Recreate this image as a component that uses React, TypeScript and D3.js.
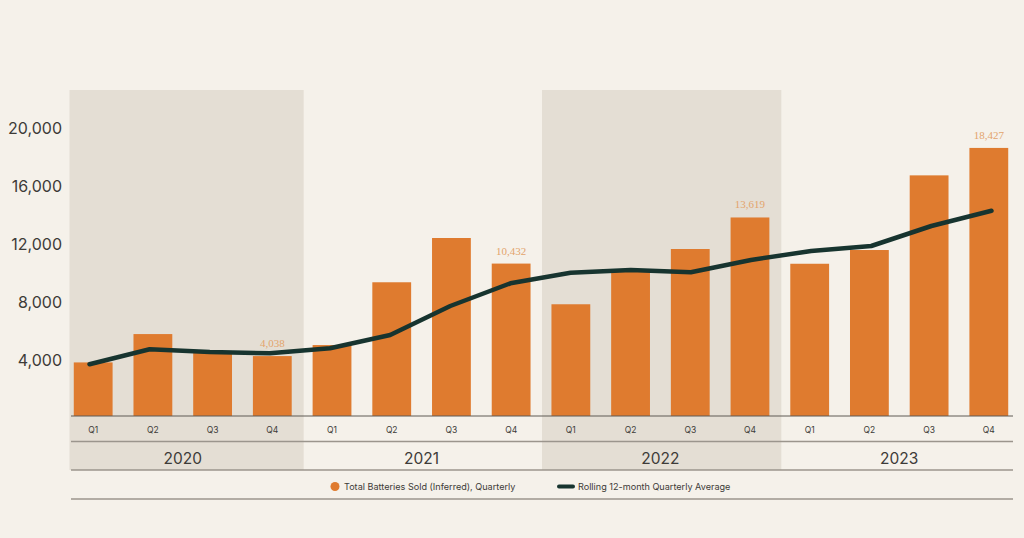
import React from "react";
import * as d3 from "d3";

const years = ["2020", "2021", "2022", "2023"];
const quarters = ["Q1", "Q2", "Q3", "Q4"];
const batteriesSold = [3600, 5560, 4250, 4038, 4800, 9140, 12200, 10432, 7620, 9950, 11440, 13619, 10420, 11370, 16530, 18427];
const rollingAverage = [3470, 4507, 4320, 4230, 4576, 5495, 7500, 9069, 9802, 9988, 9829, 10680, 11302, 11647, 13030, 14087];
const labeledPeriods = ["2020 Q4", "2021 Q4", "2022 Q4", "2023 Q4"];
const yTicks = [4000, 8000, 12000, 16000, 20000];
const shadedYears = ["2020", "2022"];
const legendBars = "Total Batteries Sold (Inferred), Quarterly";
const legendLine = "Rolling 12-month Quarterly Average";

const W = 1024;
const H = 538;
const BG = "#F5F1EA";
const SHADE = "#E4DED4";
const ORANGE = "#DF7B2F";
const LINE = "#17342F";
const LABEL = "#E3A46C";
const TEXT = "#3d3b38";
const RULE = "#9b958d";

const periods = years.flatMap((y) => quarters.map((q) => `${y} ${q}`));
const rows = periods.map((p, i) => ({
  period: p,
  year: p.split(" ")[0],
  quarter: p.split(" ")[1],
  sold: batteriesSold[i],
  avg: rollingAverage[i],
}));

export default function App() {
  const left = 69;
  const right = 1013;
  const x = d3.scaleBand<string>().domain(periods).range([left, right]).paddingInner(0.35).paddingOuter(0.08);
  const xLine = d3.scalePoint<string>().domain(periods).range([89.5, 991.5]);
  const y = d3.scaleLinear().domain([0, 22500]).range([414.5, 89]);
  const baseY = 416;
  const step = x.step();
  const bw = x.bandwidth();
  const gap = step * 0.35;

  const line = d3
    .line<(typeof rows)[number]>()
    .x((d) => xLine(d.period) as number)
    .y((d) => y(d.avg));

  const yearRange = (yr: string) => {
    const a = x(`${yr} Q1`) as number;
    const b = (x(`${yr} Q4`) as number) + bw;
    return { a, b, x0: Math.max(69.5, a - gap / 2 + 1), x1: Math.min(right, b + gap / 2 + 1.5) };
  };

  const fmt = d3.format(",");
  const sans = "Inter, 'Noto Sans', sans-serif";

  return (
    <svg width={W} height={H} style={{ position: "absolute", left: 0, top: 0 }} fontFamily={sans}>
      <rect x={0} y={0} width={W} height={H} fill={BG} />
      {shadedYears.map((yr) => {
        const r = yearRange(yr);
        return <rect key={yr} x={r.x0} y={90} width={r.x1 - r.x0} height={470 - 90} fill={SHADE} />;
      })}
      {yTicks.map((t) => (
        <text key={t} x={62} y={y(t) + 9} textAnchor="end" fontSize={16} fill={TEXT}>
          {fmt(t)}
        </text>
      ))}
      {rows.map((d) => (
        <rect key={d.period} x={x(d.period)} y={y(d.sold)} width={bw} height={baseY - y(d.sold)} fill={ORANGE} />
      ))}
      <path d={line(rows) || ""} fill="none" stroke={LINE} strokeWidth={4.5} strokeLinejoin="round" strokeLinecap="round" />
      {rows
        .filter((d) => labeledPeriods.includes(d.period))
        .map((d) => (
          <text
            key={d.period}
            x={(x(d.period) as number) + bw / 2}
            y={y(d.sold) - 9}
            textAnchor="middle"
            fontSize={11}
            fontFamily="'Liberation Serif', 'DejaVu Serif', serif"
            fill={LABEL}
          >
            {fmt(d.sold)}
          </text>
        ))}
      <line x1={71} x2={right} y1={baseY} y2={baseY} stroke="#5e5a55" strokeWidth={1} />
      {rows.map((d) => (
        <text key={d.period + "q"} x={(x(d.period) as number) + bw / 2} y={433} textAnchor="middle" fontSize={8.5} fill={TEXT}>
          {d.quarter}
        </text>
      ))}
      <line x1={71} x2={right} y1={441.5} y2={441.5} stroke={RULE} strokeWidth={1.5} />
      {years.map((yr) => {
        const r = yearRange(yr);
        return (
          <text key={yr} x={(r.a + r.b) / 2} y={464} textAnchor="middle" fontSize={15.5} fill={TEXT}>
            {yr}
          </text>
        );
      })}
      <line x1={71} x2={right} y1={470} y2={470} stroke={RULE} strokeWidth={1.5} />
      <circle cx={335} cy={486.5} r={4.5} fill={ORANGE} />
      <text x={344} y={490} fontSize={9.1} fill={TEXT}>
        {legendBars}
      </text>
      <line x1={559} x2={573} y1={486.5} y2={486.5} stroke={LINE} strokeWidth={4} strokeLinecap="round" />
      <text x={578} y={490} fontSize={9.1} fill={TEXT}>
        {legendLine}
      </text>
      <line x1={71} x2={right} y1={499} y2={499} stroke={RULE} strokeWidth={1.5} />
    </svg>
  );
}
